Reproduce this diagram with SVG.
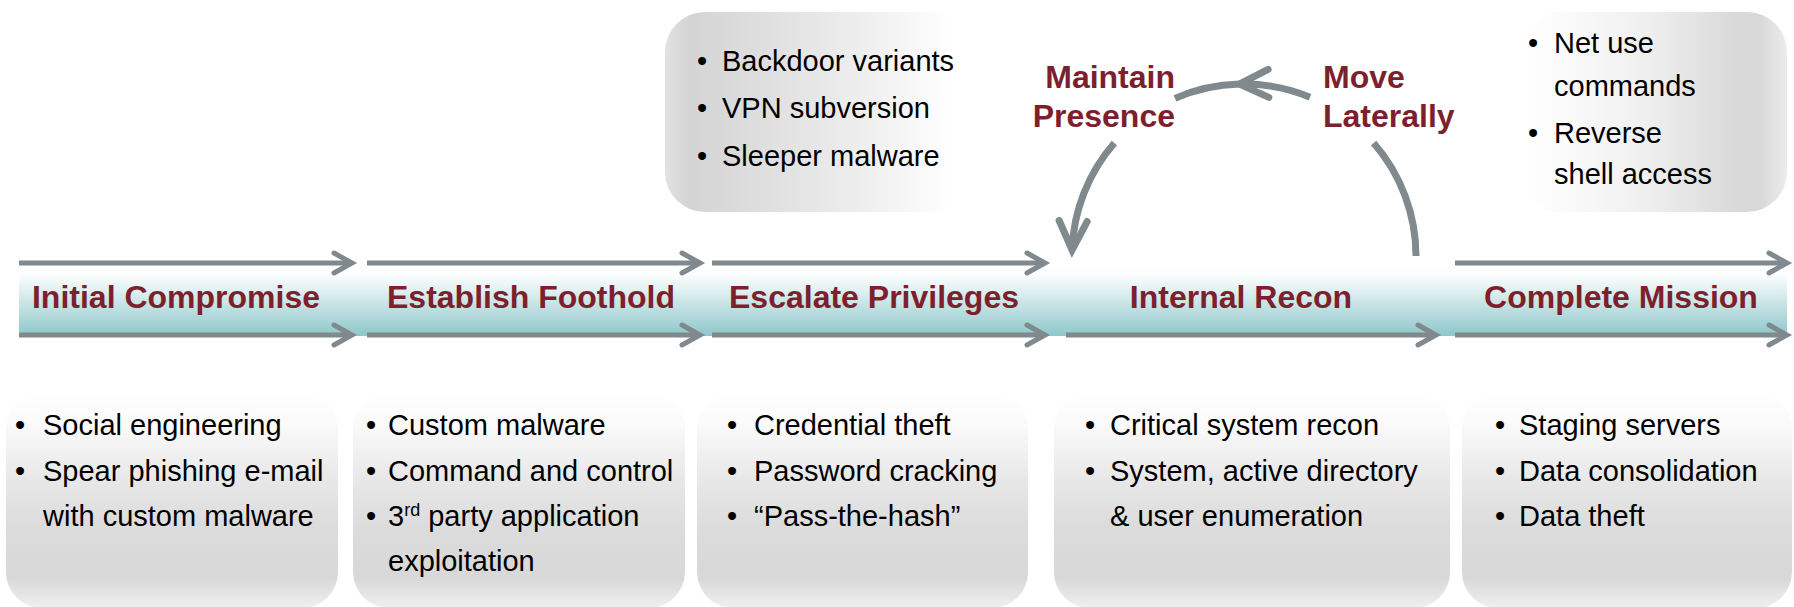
<svg xmlns="http://www.w3.org/2000/svg" width="1794" height="607" viewBox="0 0 1794 607">
  <style>
    .stage { font-family: "Liberation Sans", Arial, sans-serif; font-weight: bold; font-size: 32px; fill: #7e1f2e; }
    .item { font-family: "Liberation Sans", Arial, sans-serif; font-size: 29px; fill: #000000; }
    .arrow { fill: none; stroke: #7f898e; stroke-width: 5; marker-end: url(#chev); }
    .arc { fill: none; stroke: #7f898e; stroke-width: 7; }
    .boxb { fill: url(#gBottom); }
  </style>
  <defs>
    <linearGradient id="gBand" x1="0" y1="0" x2="0" y2="1">
      <stop offset="0" stop-color="#ffffff"/>
      <stop offset="0.15" stop-color="#fbfdfd"/>
      <stop offset="1" stop-color="#8ec7ca"/>
    </linearGradient>
    <linearGradient id="gBottom" x1="0" y1="0" x2="0" y2="1">
      <stop offset="0" stop-color="#ffffff"/>
      <stop offset="0.15" stop-color="#fafafa"/>
      <stop offset="0.4" stop-color="#e8e8e8"/>
      <stop offset="0.62" stop-color="#dcdcdc"/>
      <stop offset="0.86" stop-color="#d8d8d8"/>
      <stop offset="1" stop-color="#f0f0f0"/>
    </linearGradient>
    <linearGradient id="gTopMid" x1="0" y1="0" x2="1" y2="0">
      <stop offset="0" stop-color="#e2e2e2"/>
      <stop offset="0.08" stop-color="#d4d4d4"/>
      <stop offset="0.3" stop-color="#dedede"/>
      <stop offset="0.65" stop-color="#efefef"/>
      <stop offset="0.92" stop-color="#ffffff"/>
      <stop offset="1" stop-color="#ffffff"/>
    </linearGradient>
    <linearGradient id="gTopRight" x1="0" y1="0" x2="1" y2="0">
      <stop offset="0" stop-color="#ffffff"/>
      <stop offset="0.1" stop-color="#fdfdfd"/>
      <stop offset="0.5" stop-color="#eeeeee"/>
      <stop offset="0.8" stop-color="#dadada"/>
      <stop offset="0.9" stop-color="#d8d8d8"/>
      <stop offset="1" stop-color="#ececec"/>
    </linearGradient>
    <marker id="chev" viewBox="-24 -14 28 28" refX="0" refY="0" markerWidth="28" markerHeight="28" markerUnits="userSpaceOnUse" orient="auto" overflow="visible">
      <path d="M-18 -10 L0 0 L-18 10" fill="none" stroke="#7f898e" stroke-width="5" stroke-linecap="round"/>
    </marker>
    <marker id="chevBig" viewBox="-36 -20 40 40" refX="0" refY="0" markerWidth="40" markerHeight="40" markerUnits="userSpaceOnUse" orient="auto" overflow="visible">
      <path d="M-29 -14 L0 0 L-29 14" fill="none" stroke="#7f898e" stroke-width="7" stroke-linecap="round"/>
    </marker>
  </defs>

  <rect width="1794" height="607" fill="#ffffff"/>

  <!-- band -->
  <rect id="band" x="19" y="265" width="1768" height="71" fill="url(#gBand)"/>

  <!-- detail boxes -->
  <g id="top-presence">
    <rect x="665" y="12" width="310" height="200" rx="40" fill="url(#gTopMid)"/>
    <text class="item" x="697" y="71">•</text><text class="item" x="722" y="71">Backdoor variants</text>
    <text class="item" x="697" y="118">•</text><text class="item" x="722" y="118">VPN subversion</text>
    <text class="item" x="697" y="166">•</text><text class="item" x="722" y="166">Sleeper malware</text>
  </g>
  <g id="top-lateral">
    <rect x="1520" y="12" width="267" height="200" rx="40" fill="url(#gTopRight)"/>
    <text class="item" x="1528" y="53">•</text><text class="item" x="1554" y="53">Net use</text>
    <text class="item" x="1554" y="96">commands</text>
    <text class="item" x="1528" y="143">•</text><text class="item" x="1554" y="143">Reverse</text>
    <text class="item" x="1554" y="184">shell access</text>
  </g>

  <g id="detail-initial">
    <rect class="boxb" x="6" y="392" width="332" height="216" rx="36"/>
    <text class="item" x="15" y="435">•</text><text class="item" x="43" y="435">Social engineering</text>
    <text class="item" x="15" y="481">•</text><text class="item" x="43" y="481">Spear phishing e-mail</text>
    <text class="item" x="43" y="526">with custom malware</text>
  </g>
  <g id="detail-foothold">
    <rect class="boxb" x="353" y="392" width="332" height="216" rx="36"/>
    <text class="item" x="366" y="435">•</text><text class="item" x="388" y="435">Custom malware</text>
    <text class="item" x="366" y="481">•</text><text class="item" x="388" y="481">Command and control</text>
    <text class="item" x="366" y="526">•</text><text class="item" x="388" y="526">3<tspan font-size="18" dy="-10">rd</tspan><tspan dy="10"> party application</tspan></text>
    <text class="item" x="388" y="571">exploitation</text>
  </g>
  <g id="detail-escalate">
    <rect class="boxb" x="697" y="392" width="331" height="216" rx="36"/>
    <text class="item" x="727" y="435">•</text><text class="item" x="754" y="435">Credential theft</text>
    <text class="item" x="727" y="481">•</text><text class="item" x="754" y="481">Password cracking</text>
    <text class="item" x="727" y="526">•</text><text class="item" x="754" y="526">“Pass-the-hash”</text>
  </g>
  <g id="detail-recon">
    <rect class="boxb" x="1054" y="392" width="396" height="216" rx="36"/>
    <text class="item" x="1085" y="435">•</text><text class="item" x="1110" y="435">Critical system recon</text>
    <text class="item" x="1085" y="481">•</text><text class="item" x="1110" y="481">System, active directory</text>
    <text class="item" x="1110" y="526">&amp; user enumeration</text>
  </g>
  <g id="detail-mission">
    <rect class="boxb" x="1462" y="392" width="330" height="216" rx="36"/>
    <text class="item" x="1495" y="435">•</text><text class="item" x="1519" y="435">Staging servers</text>
    <text class="item" x="1495" y="481">•</text><text class="item" x="1519" y="481">Data consolidation</text>
    <text class="item" x="1495" y="526">•</text><text class="item" x="1519" y="526">Data theft</text>
  </g>

  <!-- connectors -->
  <g id="connectors">
    <path class="arrow" d="M19 263 H352"/>
    <path class="arrow" d="M367 263 H700"/>
    <path class="arrow" d="M712 263 H1045"/>
    <path class="arrow" d="M1455 263 H1787"/>
    <path class="arrow" d="M19 335 H352"/>
    <path class="arrow" d="M367 335 H700"/>
    <path class="arrow" d="M712 335 H1045"/>
    <path class="arrow" d="M1066 335 H1436"/>
    <path class="arrow" d="M1455 335 H1787"/>
    <!-- cycle -->
    <path class="arc" d="M1416 256 A172 172 0 0 0 1373.6 143"/>
    <path class="arc" d="M1310 97.2 A172 172 0 0 0 1239.5 84.1" marker-end="url(#chevBig)"/>
    <path class="arc" d="M1239.5 84.1 A172 172 0 0 0 1175 98.4"/>
    <path class="arc" d="M1114.4 143 A172 172 0 0 0 1072.1 250" marker-end="url(#chevBig)"/>
  </g>

  <!-- stage nodes -->
  <g id="stage-initial"><text class="stage" x="176" y="308" text-anchor="middle">Initial Compromise</text></g>
  <g id="stage-foothold"><text class="stage" x="531" y="308" text-anchor="middle">Establish Foothold</text></g>
  <g id="stage-escalate"><text class="stage" x="874" y="308" text-anchor="middle">Escalate Privileges</text></g>
  <g id="stage-recon"><text class="stage" x="1241" y="308" text-anchor="middle">Internal Recon</text></g>
  <g id="stage-mission"><text class="stage" x="1621" y="308" text-anchor="middle">Complete Mission</text></g>
  <g id="stage-presence">
    <text class="stage" x="1175" y="88" text-anchor="end">Maintain</text>
    <text class="stage" x="1175" y="127" text-anchor="end">Presence</text>
  </g>
  <g id="stage-lateral">
    <text class="stage" x="1323" y="88">Move</text>
    <text class="stage" x="1323" y="127">Laterally</text>
  </g>
</svg>
